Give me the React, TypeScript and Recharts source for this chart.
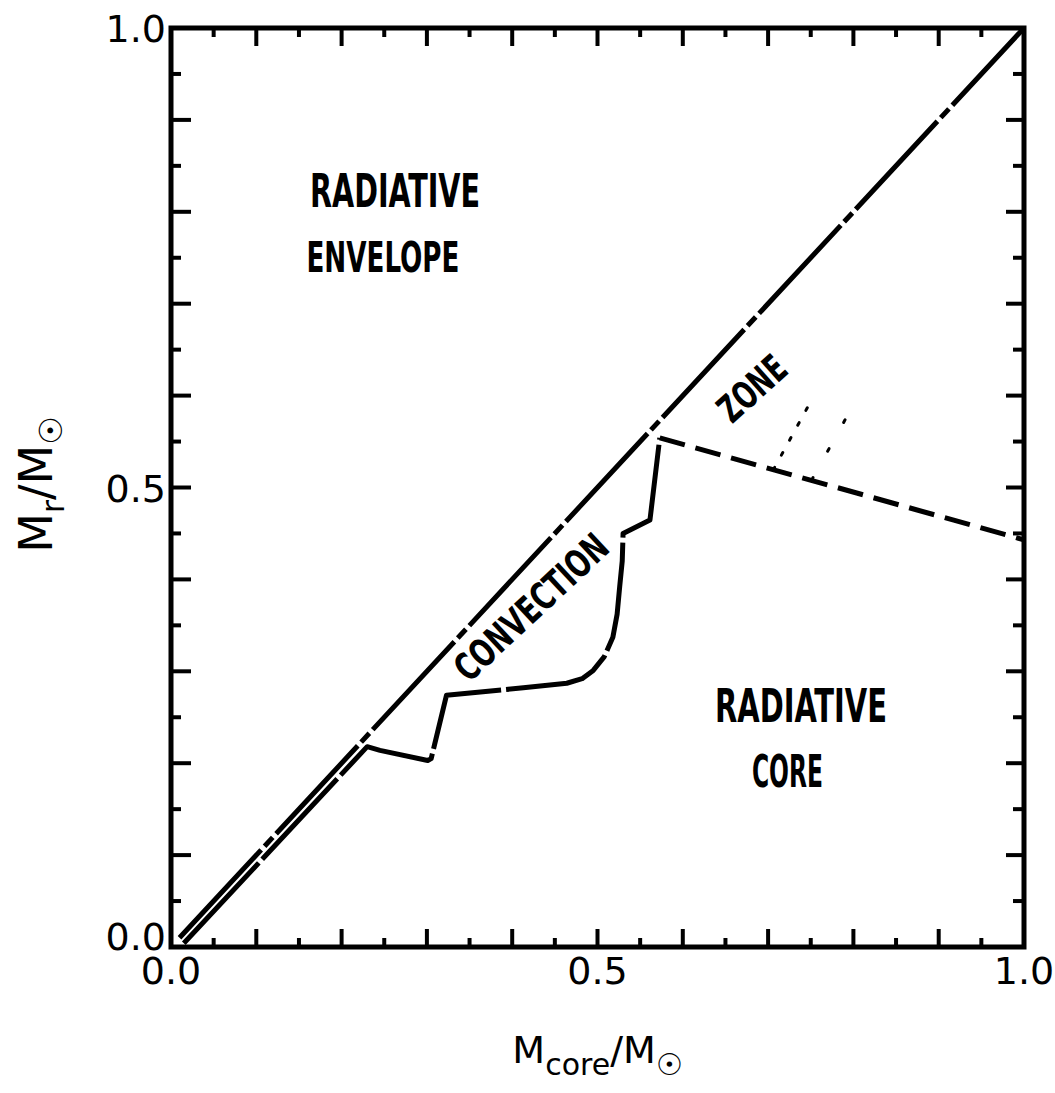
import React from 'react';
import { ComposedChart, Line, XAxis, YAxis, ReferenceArea, ReferenceDot } from 'recharts';

// ---- data ----
const diagonalLine = [
  { x: 0.01, y: 0.01 },
  { x: 1.0, y: 1.0 },
];

const convectionInnerBoundary = [
  { x: 0.015, y: 0.004 },
  { x: 0.23, y: 0.218 },
  { x: 0.245, y: 0.214 },
  { x: 0.301, y: 0.203 },
  { x: 0.305, y: 0.205 },
  { x: 0.323, y: 0.274 },
  { x: 0.413, y: 0.282 },
  { x: 0.464, y: 0.287 },
  { x: 0.482, y: 0.292 },
  { x: 0.495, y: 0.301 },
  { x: 0.508, y: 0.316 },
  { x: 0.518, y: 0.337 },
  { x: 0.523, y: 0.362 },
  { x: 0.526, y: 0.392 },
  { x: 0.529, y: 0.42 },
  { x: 0.53, y: 0.45 },
  { x: 0.5615, y: 0.4646 },
  { x: 0.573, y: 0.554 },
];

const coreBoundary = [
  { x: 0.573, y: 0.554 },
  { x: 1.0, y: 0.443 },
];

const dottedA = [
  { x: 0.706, y: 0.519 },
  { x: 0.752, y: 0.597 },
];

const dottedB = [
  { x: 0.751, y: 0.508 },
  { x: 0.8, y: 0.59 },
];

const axisTicks = [0, 0.05, 0.1, 0.15, 0.2, 0.25, 0.3, 0.35, 0.4, 0.45, 0.5, 0.55, 0.6, 0.65, 0.7, 0.75, 0.8, 0.85, 0.9, 0.95, 1.0];
const labeledTickValues = [0, 0.5, 1.0];
const labeledTickTexts = ['0.0', '0.5', '1.0'];

const regionLabels = [
  { id: 'env1', text: 'RADIATIVE', x: 0.2626, y: 0.8237 },
  { id: 'env2', text: 'ENVELOPE', x: 0.2485, y: 0.7508 },
  { id: 'core1', text: 'RADIATIVE', x: 0.7386, y: 0.2633 },
  { id: 'core2', text: 'CORE', x: 0.7227, y: 0.1915 },
  { id: 'conv', text: 'CONVECTION', x: 0.422, y: 0.37 },
  { id: 'zone', text: 'ZONE', x: 0.681, y: 0.608 },
];

// ---- styles ----
const labelStyles: Record<string, { w: number; size: number; angle: number }> = {
  env1: { w: 170, size: 46, angle: 0 },
  env2: { w: 153, size: 42, angle: 0 },
  core1: { w: 172, size: 46, angle: 0 },
  core2: { w: 71, size: 44, angle: 0 },
  conv: { w: 195, size: 38, angle: -43 },
  zone: { w: 78, size: 38, angle: -42 },
};

const FONT = "'DejaVu Sans', sans-serif";
const COND = "'DejaVu Sans Condensed', 'DejaVu Sans', sans-serif";

const near = (a: number, b: number) => Math.abs(a - b) < 1e-6;
const isLong = (v: number) => Math.round(v * 100) % 10 === 0;
const labelFor = (v: number) => {
  const i = labeledTickValues.findIndex((t) => near(t, v));
  return i >= 0 ? labeledTickTexts[i] : null;
};
const inner = (v: number) => v > 0.001 && v < 0.999;

const BottomTick = (p: any) => {
  const { x, y, payload } = p;
  const v = payload.value;
  const len = isLong(v) ? 18 : 9;
  const lab = labelFor(v);
  return (
    <g>
      {inner(v) && <line x1={x} y1={y} x2={x} y2={y - len} stroke="#000" strokeWidth={4} />}
      {lab && (
        <text x={x} y={y + 37} textAnchor="middle" fontFamily={FONT} fontSize={38} fill="#000">
          {lab}
        </text>
      )}
    </g>
  );
};

const TopTick = (p: any) => {
  const { x, y, payload } = p;
  const v = payload.value;
  const len = isLong(v) ? 18 : 9;
  return <g>{inner(v) && <line x1={x} y1={y} x2={x} y2={y + len} stroke="#000" strokeWidth={4} />}</g>;
};

const LeftTick = (p: any) => {
  const { x, y, payload } = p;
  const v = payload.value;
  const len = isLong(v) ? 20 : 10;
  const lab = labelFor(v);
  // the lowest label sits slightly above its tick in the reference
  const shift = near(v, 0) ? -11 : 0;
  return (
    <g>
      {inner(v) && <line x1={x} y1={y} x2={x + len} y2={y} stroke="#000" strokeWidth={4} />}
      {lab && (
        <text x={x - 5} y={y + 14 + shift} textAnchor="end" fontFamily={FONT} fontSize={38} fill="#000">
          {lab}
        </text>
      )}
    </g>
  );
};

const RightTick = (p: any) => {
  const { x, y, payload } = p;
  const v = payload.value;
  const len = isLong(v) ? 18 : 11;
  return <g>{inner(v) && <line x1={x} y1={y} x2={x - len} y2={y} stroke="#000" strokeWidth={4} />}</g>;
};

const XTitle = (p: any) => {
  const vb = p.viewBox || { x: 171, y: 947, width: 853, height: 130 };
  const cx = vb.x + vb.width / 2;
  const by = vb.y + 116;
  return (
    <text x={cx} y={by} textAnchor="middle" fontFamily={FONT} fontSize={38} fill="#000">
      <tspan>M</tspan>
      <tspan fontSize={30} dy={12}>core</tspan>
      <tspan dy={-12}>/M</tspan>
      <tspan fontSize={30} dy={12}>☉</tspan>
    </text>
  );
};

const YTitle = (p: any) => {
  const vb = p.viewBox || { x: 0, y: 28, width: 171, height: 919 };
  const cy = vb.y + vb.height / 2 - 3;
  const bx = vb.x + 52;
  return (
    <text
      x={bx}
      y={cy}
      textAnchor="middle"
      fontFamily={FONT}
      fontSize={46}
      fill="#000"
      transform={`rotate(-90 ${bx} ${cy})`}
    >
      <tspan>M</tspan>
      <tspan fontSize={32} dy={12}>r</tspan>
      <tspan dy={-12}>/M</tspan>
      <tspan fontSize={32} dy={10}>☉</tspan>
    </text>
  );
};

const Annot = (p: any) => {
  const { viewBox, text, id } = p;
  const st = labelStyles[id];
  const cx = viewBox.x + (viewBox.width || 0) / 2;
  const cy = viewBox.y + (viewBox.height || 0) / 2;
  return (
    <text
      x={cx}
      y={cy + st.size * 0.36}
      textAnchor="middle"
      fontFamily={COND}
      fontWeight="bold"
      fontSize={st.size}
      textLength={st.w}
      lengthAdjust="spacingAndGlyphs"
      fill="#000"
      transform={st.angle ? `rotate(${st.angle} ${cx} ${cy})` : undefined}
    >
      {text}
    </text>
  );
};

export default function App() {
  return (
    <div style={{ position: 'absolute', left: 0, top: 0, width: 1055, height: 1093, background: '#fff' }}>
      <ComposedChart width={1055} height={1093} margin={{ top: 23, right: 26, bottom: 16, left: 0 }}>
        <XAxis
          xAxisId={0}
          type="number"
          dataKey="x"
          domain={[0, 1]}
          allowDataOverflow
          ticks={axisTicks}
          interval={0}
          tickSize={0}
          tickMargin={0}
          axisLine={false}
          tickLine={false}
          tick={<BottomTick />}
          height={130}
          orientation="bottom"
          label={<XTitle />}
        />
        <XAxis
          xAxisId="top"
          type="number"
          dataKey="x"
          domain={[0, 1]}
          allowDataOverflow
          ticks={axisTicks}
          interval={0}
          tickSize={0}
          tickMargin={0}
          axisLine={false}
          tickLine={false}
          tick={<TopTick />}
          height={5}
          orientation="top"
        />
        <YAxis
          yAxisId={0}
          type="number"
          dataKey="y"
          domain={[0, 1]}
          allowDataOverflow
          ticks={axisTicks}
          interval={0}
          tickSize={0}
          tickMargin={0}
          axisLine={false}
          tickLine={false}
          tick={<LeftTick />}
          width={171}
          orientation="left"
          label={<YTitle />}
        />
        <YAxis
          yAxisId="right"
          type="number"
          dataKey="y"
          domain={[0, 1]}
          allowDataOverflow
          ticks={axisTicks}
          interval={0}
          tickSize={0}
          tickMargin={0}
          axisLine={false}
          tickLine={false}
          tick={<RightTick />}
          width={5}
          orientation="right"
        />
        <ReferenceArea x1={0} x2={1} y1={0} y2={1} fill="none" stroke="#000" strokeWidth={5} ifOverflow="visible" />
        <Line
          data={diagonalLine}
          dataKey="y"
          type="linear"
          stroke="#000"
          strokeWidth={5}
          strokeDasharray="120 5 12 5"
          dot={false}
          activeDot={false}
          isAnimationActive={false}
        />
        <Line
          data={convectionInnerBoundary}
          dataKey="y"
          type="linear"
          stroke="#000"
          strokeWidth={5}
          strokeDasharray="110 5"
          strokeLinejoin="round"
          dot={false}
          activeDot={false}
          isAnimationActive={false}
        />
        <Line
          data={coreBoundary}
          dataKey="y"
          type="linear"
          stroke="#000"
          strokeWidth={5}
          strokeDasharray="26 11"
          dot={false}
          activeDot={false}
          isAnimationActive={false}
        />
        <Line
          data={dottedA}
          dataKey="y"
          type="linear"
          stroke="#000"
          strokeWidth={3}
          strokeDasharray="3 14"
          strokeLinecap="round"
          dot={false}
          activeDot={false}
          isAnimationActive={false}
        />
        <Line
          data={dottedB}
          dataKey="y"
          type="linear"
          stroke="#000"
          strokeWidth={3}
          strokeDasharray="3 30"
          strokeLinecap="round"
          dot={false}
          activeDot={false}
          isAnimationActive={false}
        />
        {regionLabels.map((l) => (
          <ReferenceDot
            key={l.id}
            x={l.x}
            y={l.y}
            r={1}
            fill="none"
            stroke="none"
            label={<Annot text={l.text} id={l.id} />}
          />
        ))}
      </ComposedChart>
    </div>
  );
}
